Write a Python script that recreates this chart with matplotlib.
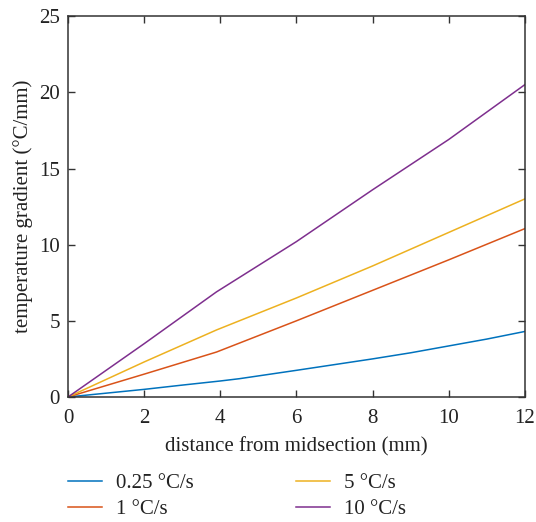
import matplotlib.pyplot as plt

# temperature gradient vs distance for each heating rate
x_blue = [0, 1, 2, 3, 4, 4.5, 6, 8, 9, 10, 11, 12]
g_025 = [0, 0.25, 0.5, 0.78, 1.05, 1.2, 1.75, 2.5, 2.9, 3.35, 3.8, 4.3]
x_lines = [0, 2, 3.9, 6, 8, 10, 12]
g_1 = [0, 1.5, 2.95, 5.0, 7.0, 9.0, 11.05]
g_5 = [0, 2.3, 4.4, 6.5, 8.6, 10.8, 13.0]
g_10 = [0, 3.5, 6.9, 10.2, 13.6, 16.9, 20.5]
labels = ['0.25 °C/s', '1 °C/s', '5 °C/s', '10 °C/s']
colors = ['#0072BD', '#D95319', '#EDB120', '#7E2F8E']

plt.rcParams['font.family'] = ['Liberation Serif', 'DejaVu Serif']
plt.rcParams['font.size'] = 15

fig = plt.figure(figsize=(5.36, 5.22), dpi=100)
ax = fig.add_axes([0.127, 0.2395, 0.852, 0.7295])

ax.plot(x_blue, g_025, color=colors[0], lw=1.1, label=labels[0])
ax.plot(x_lines, g_1, color=colors[1], lw=1.1, label=labels[1])
ax.plot(x_lines, g_5, color=colors[2], lw=1.1, label=labels[2])
ax.plot(x_lines, g_10, color=colors[3], lw=1.1, label=labels[3])

ax.set_xlim(0, 12)
ax.set_ylim(0, 25)
ax.set_xticks(range(0, 13, 2))
ax.set_yticks(range(0, 26, 5))
ax.tick_params(direction='in', top=True, right=True, length=5, width=1,
               colors='#333333', labelcolor='#222222', labelsize=15)
ax.tick_params(axis='x', pad=9)
ax.tick_params(axis='y', pad=6)
for s in ax.spines.values():
    s.set_color('#333333')
    s.set_linewidth(1.1)

ax.set_xlabel('distance from midsection (mm)', color='#222222', labelpad=6)
ax.set_ylabel('temperature gradient (°C/mm)', color='#222222', labelpad=4)

fig.legend(ncol=2, loc='upper left', bbox_to_anchor=(0.092, 0.129),
           frameon=False, handlelength=1.65, handletextpad=0.65,
           columnspacing=4.9, labelspacing=0.32, fontsize=15,
           labelcolor='#222222')

fig.savefig('out.png', dpi=100)
